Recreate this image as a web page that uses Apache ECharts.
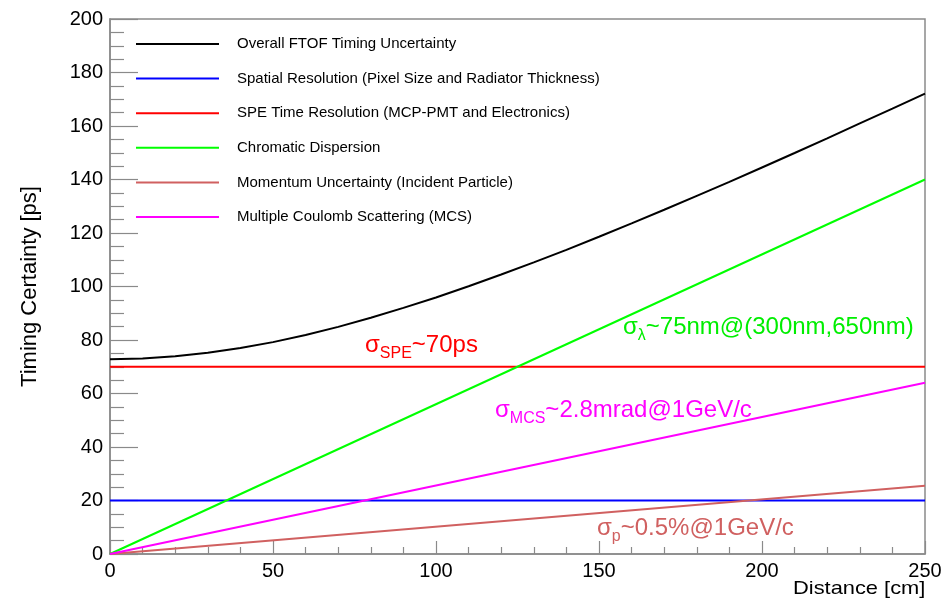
<!DOCTYPE html>
<html>
<head>
<meta charset="utf-8">
<script src="https://cdn.jsdelivr.net/npm/echarts@6/dist/echarts.min.js"></script>
<style>html,body{margin:0;padding:0;background:#fff;}#chart{width:946px;height:601px;}</style>
</head>
<body>
<div id="chart"></div>
<script>
// Distance [cm] sample positions and values
var distance = [0,10,20,30,40,50,60,70,80,90,100,110,120,130,140,150,160,170,180,190,200,210,220,230,240,250];
var overall = [72.8,73.1,73.9,75.2,77.0,79.2,81.9,84.9,88.3,92.0,95.9,100.1,104.5,109.0,113.7,118.6,123.6,128.7,133.9,139.1,144.5,149.9,155.4,161.0,166.5,172.1];
var lineEnds = [0, 250];
var spatial = [20, 20];
var spe = [70, 70];
var chromatic = [0, 140];
var momentum = [0, 25.5];
var mcs = [0, 64];

var names = [
  'Overall FTOF Timing Uncertainty',
  'Spatial Resolution (Pixel Size and Radiator Thickness)',
  'SPE Time Resolution (MCP-PMT and Electronics)',
  'Chromatic Dispersion',
  'Momentum Uncertainty (Incident Particle)',
  'Multiple Coulomb Scattering (MCS)'
];
var colors = ['#000000', '#0000ff', '#ff0000', '#00ff00', '#d06060', '#ff00ff'];
var xTicks = [0, 50, 100, 150, 200, 250];
var yTicks = [0, 20, 40, 60, 80, 100, 120, 140, 160, 180, 200];

function pairs(xs, ys) { return xs.map(function (x, i) { return [x, ys[i]]; }); }
var seriesData = [
  pairs(distance, overall),
  pairs(lineEnds, spatial),
  pairs(lineEnds, spe),
  pairs(lineEnds, chromatic),
  pairs(lineEnds, momentum),
  pairs(lineEnds, mcs)
];

var FONT = 'Liberation Sans, Arial, Helvetica, sans-serif';
var axisGray = '#8a8a8a';

var legends = names.map(function (n, i) {
  return {
    data: [n],
    left: 136,
    top: 34 + i * 34.6,
    icon: 'rect',
    itemWidth: 83,
    itemHeight: 2,
    itemGap: 0,
    padding: 0,
    selectedMode: false,
    textStyle: { fontFamily: FONT, fontSize: 15, color: '#000', lineHeight: 20, padding: [0, 0, 0, 13] }
  };
});

function rich(col) {
  return {
    m: { fontFamily: FONT, fontSize: 24, fill: col, color: col, lineHeight: 28, verticalAlign: 'bottom' },
    s: { fontFamily: FONT, fontSize: 16, fill: col, color: col, lineHeight: 18, verticalAlign: 'bottom', padding: [0, 0, -5, 0] }
  };
}

var chart = echarts.init(document.getElementById('chart'));
var option = {
  animation: false,
  backgroundColor: '#ffffff',
  color: colors,
  legend: legends,
  grid: { left: 110, right: 21, top: 19, bottom: 47, show: true, borderColor: axisGray, borderWidth: 1.5, backgroundColor: 'transparent' },
  xAxis: {
    type: 'value', min: xTicks[0], max: xTicks[xTicks.length - 1], interval: 50,
    axisLine: { lineStyle: { color: axisGray, width: 1.5 } },
    axisTick: { inside: true, length: 13, lineStyle: { color: axisGray, width: 1.2 } },
    minorTick: { show: true, splitNumber: 5, length: 7, lineStyle: { color: axisGray, width: 1.2 } },
    splitLine: { show: false },
    axisLabel: { fontFamily: FONT, fontSize: 20, color: '#000', margin: 7 }
  },
  yAxis: {
    type: 'value', min: yTicks[0], max: yTicks[yTicks.length - 1], interval: 20,
    name: 'Timing Certainty [ps]', nameLocation: 'middle', nameGap: 69,
    nameTextStyle: { fontFamily: FONT, fontSize: 22, color: '#000' },
    axisLine: { lineStyle: { color: axisGray, width: 1.5 } },
    axisTick: { inside: true, length: 28, lineStyle: { color: axisGray, width: 1.2 } },
    minorTick: { show: true, splitNumber: 4, length: 14, lineStyle: { color: axisGray, width: 1.2 } },
    splitLine: { show: false },
    axisLabel: { fontFamily: FONT, fontSize: 20, color: '#000', margin: 7 }
  },
  series: names.map(function (n, i) {
    return {
      name: n, type: 'line', data: seriesData[i], showSymbol: false, symbol: 'none',
      lineStyle: { color: colors[i], width: 2 }, itemStyle: { color: colors[i] },
      z: 2 + i
    };
  }),
  graphic: [
    { type: 'text', x: 793, y: 589, scaleX: 1.15, style: { text: 'Distance [cm]', fontFamily: FONT, fontSize: 19, fill: '#000', textAlign: 'left', textVerticalAlign: 'middle' } },
    { type: 'text', left: 365, top: 333, style: { text: '{m|σ}{s|SPE}{m|~70ps}', rich: rich('#ff0000') } },
    { type: 'text', left: 623, top: 315, style: { text: '{m|σ}{s|λ}{m|~75nm@(300nm,650nm)}', rich: rich('#00ee00') } },
    { type: 'text', left: 495, top: 398, style: { text: '{m|σ}{s|MCS}{m|~2.8mrad@1GeV/c}', rich: rich('#ff00ff') } },
    { type: 'text', left: 597, top: 516, style: { text: '{m|σ}{s|p}{m|~0.5%@1GeV/c}', rich: rich('#d06060') } }
  ]
};
chart.setOption(option);
</script>
</body>
</html>
